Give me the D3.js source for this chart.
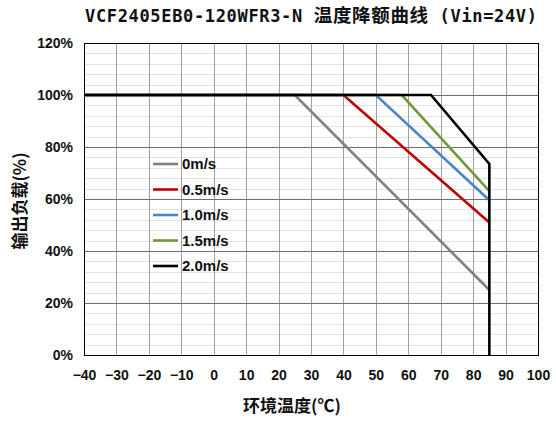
<!DOCTYPE html>
<html>
<head>
<meta charset="utf-8">
<script src="https://cdn.jsdelivr.net/npm/d3@7"></script>
<style>
  body { margin: 0; background: #fff; }
  svg { display: block; }
</style>
</head>
<body>
<div class="chart"></div>
<script>
// derating curves
var seriesNames = ["0m/s", "0.5m/s", "1.0m/s", "1.5m/s", "2.0m/s"];
var curve0  = [[-40, 100], [25, 100], [85, 25]];
var curve05 = [[-40, 100], [40, 100], [85, 51]];
var curve10 = [[-40, 100], [50, 100], [85, 59.5]];
var curve15 = [[-40, 100], [58, 100], [85, 63]];
var curve20 = [[-40, 100], [67, 100], [85, 73.5], [85, 0]];
var xTicks = [-40, -30, -20, -10, 0, 10, 20, 30, 40, 50, 60, 70, 80, 90, 100];
var yTicks = [0, 20, 40, 60, 80, 100, 120];

var curves = [curve0, curve05, curve10, curve15, curve20];
var colors = ["#808080", "#c00000", "#4a86c6", "#6f9a3c", "#000000"];

var W = 556, H = 421;
var margin = {top: 43, right: 18, bottom: 66, left: 84},
    width = W - margin.left - margin.right,
    height = H - margin.top - margin.bottom;

var x = d3.scaleLinear().domain([-40, 100]).range([0, width]);
var y = d3.scaleLinear().domain([0, 120]).range([height, 0]);

var svg = d3.select(".chart").append("svg")
    .attr("width", W)
    .attr("height", H);

var g = svg.append("g")
    .attr("transform", "translate(" + margin.left + "," + margin.top + ")");

// minor horizontal grid every 4%
g.append("g")
    .selectAll("line")
    .data(d3.range(0, 121, 4).filter(function(d) { return d % 20 !== 0; }))
    .enter().append("line")
    .attr("x1", 0).attr("x2", width)
    .attr("y1", function(d) { return Math.round(y(d)) + 0.5; })
    .attr("y2", function(d) { return Math.round(y(d)) + 0.5; })
    .attr("stroke", "#e3e3e3");

// vertical grid
g.append("g")
    .selectAll("line")
    .data(xTicks.slice(1, -1))
    .enter().append("line")
    .attr("x1", function(d) { return Math.round(x(d)) + 0.5; })
    .attr("x2", function(d) { return Math.round(x(d)) + 0.5; })
    .attr("y1", 0).attr("y2", height)
    .attr("stroke", "#a0a0a0");

// major horizontal grid
g.append("g")
    .selectAll("line")
    .data(yTicks.slice(1, -1))
    .enter().append("line")
    .attr("x1", 0).attr("x2", width)
    .attr("y1", function(d) { return Math.round(y(d)) + 0.5; })
    .attr("y2", function(d) { return Math.round(y(d)) + 0.5; })
    .attr("stroke", "#6e6e6e");

// frame
g.append("rect")
    .attr("x", 0.5).attr("y", 0.5)
    .attr("width", width).attr("height", height)
    .attr("fill", "none")
    .attr("stroke", "#000");

// curves
var line = d3.line()
    .x(function(d) { return x(d[0]); })
    .y(function(d) { return y(d[1]); });

g.append("g")
    .selectAll("path")
    .data(curves)
    .enter().append("path")
    .attr("d", line)
    .attr("fill", "none")
    .attr("stroke", function(d, i) { return colors[i]; })
    .attr("stroke-width", 2.6)
    .attr("stroke-linejoin", "miter");

// axes
var tickFont = "'Liberation Sans', Arial, sans-serif";

var xAxis = g.append("g")
    .attr("transform", "translate(0," + height + ")")
    .call(d3.axisBottom(x).tickValues(xTicks).tickSize(0).tickPadding(15)
        .tickFormat(function(d) { return d < 0 ? "\u2212" + (-d) : d; }));
xAxis.select(".domain").remove();
xAxis.selectAll("text")
    .attr("font-family", tickFont)
    .attr("font-weight", "bold")
    .attr("font-size", 14)
    .attr("fill", "#111");

var yAxis = g.append("g")
    .call(d3.axisLeft(y).tickValues(yTicks).tickSize(0).tickPadding(11)
        .tickFormat(function(d) { return d + "%"; }));
yAxis.select(".domain").remove();
yAxis.selectAll("text")
    .attr("font-family", tickFont)
    .attr("font-weight", "bold")
    .attr("font-size", 14)
    .attr("fill", "#111");

// titles
var title = svg.append("text")
    .attr("x", 311)
    .attr("y", 22)
    .attr("text-anchor", "middle")
    .attr("font-weight", "bold")
    .attr("fill", "#111")
    .attr("textLength", 452)
    .attr("lengthAdjust", "spacing");
title.append("tspan")
    .attr("font-family", "'DejaVu Sans Mono', monospace")
    .attr("font-size", 17)
    .text("VCF2405EB0-120WFR3-N ");
title.append("tspan")
    .attr("font-family", "'Noto Sans CJK SC', sans-serif")
    .attr("font-size", 18.5)
    .text("温度降额曲线");
title.append("tspan")
    .attr("font-family", "'DejaVu Sans Mono', monospace")
    .attr("font-size", 17)
    .text(" (Vin=24V)");

svg.append("text")
    .attr("x", 292)
    .attr("y", 412)
    .attr("text-anchor", "middle")
    .attr("font-family", "'Noto Sans CJK SC', sans-serif")
    .attr("font-weight", "bold")
    .attr("font-size", 17)
    .attr("fill", "#111")
    .text("环境温度(℃)");

svg.append("text")
    .attr("transform", "translate(26,201) rotate(-90)")
    .attr("text-anchor", "middle")
    .attr("font-family", "'Noto Sans CJK SC', sans-serif")
    .attr("font-weight", "bold")
    .attr("font-size", 17)
    .attr("fill", "#111")
    .text("输出负载(%)");

// legend
var legend = svg.append("g")
    .attr("font-family", tickFont)
    .attr("font-weight", "bold")
    .attr("font-size", 15)
    .selectAll("g")
    .data(seriesNames)
    .enter().append("g")
    .attr("transform", function(d, i) { return "translate(153," + (164 + i * 25.5) + ")"; });

legend.append("line")
    .attr("x1", 0).attr("x2", 25)
    .attr("stroke", function(d, i) { return colors[i]; })
    .attr("stroke-width", 2.6);

legend.append("text")
    .attr("x", 29)
    .attr("dy", "0.35em")
    .attr("fill", "#111")
    .text(function(d) { return d; });
</script>
</body>
</html>
